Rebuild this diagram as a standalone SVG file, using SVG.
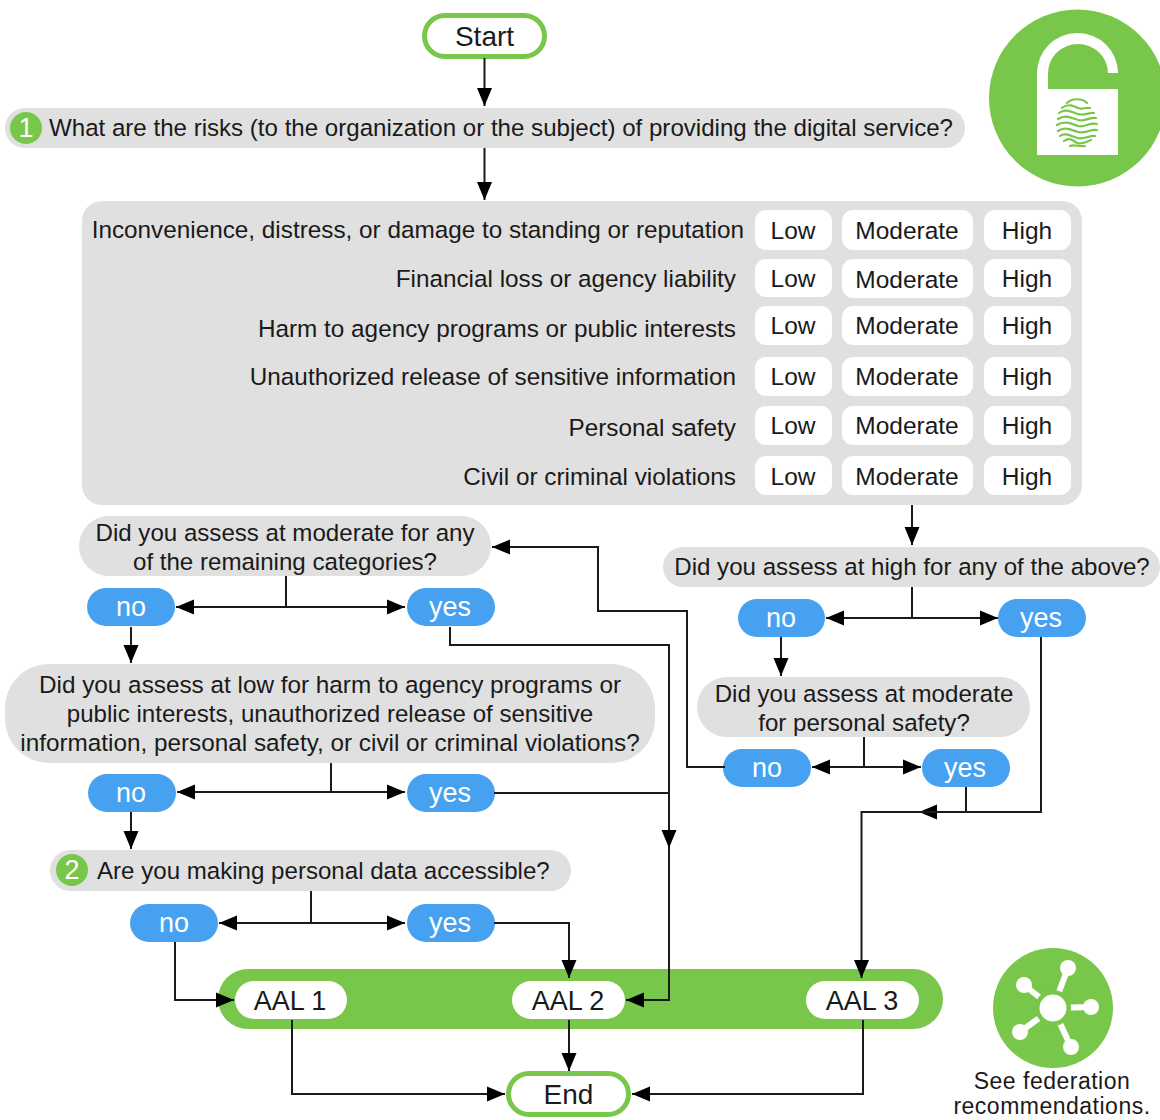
<svg xmlns="http://www.w3.org/2000/svg" width="1160" height="1120" viewBox="0 0 1160 1120">
<defs>
<marker id="arrow" markerUnits="userSpaceOnUse" markerWidth="19" markerHeight="17" refX="18" refY="8.500" orient="auto"><path d="M0,1 L18,8.500 L0,16 Z" fill="#000"/></marker>
</defs>
<style>
text{font-family:"Liberation Sans",Arial,sans-serif;font-size:24.100px;fill:#1a1a1a;text-anchor:middle}
.r{text-anchor:end;font-size:24.300px}
.l{text-anchor:start}
.gray{fill:#e0e0e0}
.white{fill:#fff}
.blue{fill:#46a2f0}
.green{fill:#78c74a}
.ans text{fill:#fff;font-size:27px}
.cell{font-size:24.500px}
.big{font-size:28px}
.aal{font-size:27px}
.fed{font-size:23px;letter-spacing:.5px}
.term{fill:#fff;stroke:#78c74a;stroke-width:5}
.num{fill:#fff;font-size:27px}
#connectors path{fill:none;stroke:#1a1a1a;stroke-width:2}
.arr{marker-end:url(#arrow)}
</style>
<rect width="1160" height="1120" fill="#fff"/>

<g id="lock-icon">
<circle class="green" cx="1077.500" cy="98" r="88.500"/>
<path class="white" d="M1037,155V73A40.500,40 0 0 1 1118,73H1108A30,29 0 0 0 1048,73V89H1118V155Z"/>
<g fill="none" stroke="#78c74a" stroke-width="2.200" stroke-linecap="round">
<path d="M1067,103C1072,98 1082,98 1087,103"/>
<path d="M1062,108C1068,103 1074,106 1078,108C1082,110 1086,107 1090,108"/>
<path d="M1059,113C1065,108 1072,112 1078,114C1084,116 1090,112 1094,113"/>
<path d="M1058,119C1065,114 1072,118 1078,120C1084,122 1090,117 1096,118"/>
<path d="M1057,125C1064,120 1072,124 1078,126C1084,128 1090,122 1097,124"/>
<path d="M1058,131C1065,126 1071,130 1078,132C1085,134 1090,129 1097,130"/>
<path d="M1060,136C1065,132 1071,136 1077,138C1084,140 1090,135 1095,136"/>
<path d="M1064,141C1069,137 1073,140 1077,143C1083,145 1088,141 1091,140"/>
<path d="M1070,146C1074,144 1080,147 1085,146"/>
</g>
</g>

<g id="start"><rect class="term" x="424.500" y="15.500" width="120" height="41" rx="20.500"/><text class="big" x="484.500" y="46">Start</text></g>

<g id="q1"><rect class="gray" x="5" y="108" width="960" height="40" rx="20"/><circle class="green" cx="26" cy="128" r="16"/><text class="num" x="26" y="137">1</text><text class="l" x="49" y="136">What are the risks (to the organization or the subject) of providing the digital service?</text></g>

<g id="risk-table">
<rect class="gray" x="82" y="201" width="1000" height="304" rx="20"/>
<text class="r" x="744" y="238">Inconvenience, distress, or damage to standing or reputation</text>
<text class="r" x="736" y="287">Financial loss or agency liability</text>
<text class="r" x="736" y="337">Harm to agency programs or public interests</text>
<text class="r" x="736" y="385">Unauthorized release of sensitive information</text>
<text class="r" x="736" y="436">Personal safety</text>
<text class="r" x="736" y="485">Civil or criminal violations</text>
<rect class="white" x="755" y="210" width="77" height="40" rx="11"/><text class="cell" x="793" y="239">Low</text>
<rect class="white" x="842" y="210" width="131" height="40" rx="11"/><text class="cell" x="907" y="239">Moderate</text>
<rect class="white" x="984" y="210" width="87" height="40" rx="11"/><text class="cell" x="1027" y="239">High</text>
<rect class="white" x="755" y="259" width="77" height="38" rx="11"/><text class="cell" x="793" y="287">Low</text>
<rect class="white" x="842" y="259" width="131" height="39" rx="11"/><text class="cell" x="907" y="288">Moderate</text>
<rect class="white" x="984" y="259" width="87" height="38" rx="11"/><text class="cell" x="1027" y="287">High</text>
<rect class="white" x="755" y="306" width="77" height="39" rx="11"/><text class="cell" x="793" y="334">Low</text>
<rect class="white" x="842" y="306" width="131" height="39" rx="11"/><text class="cell" x="907" y="334">Moderate</text>
<rect class="white" x="984" y="306" width="87" height="39" rx="11"/><text class="cell" x="1027" y="334">High</text>
<rect class="white" x="755" y="357" width="77" height="39" rx="11"/><text class="cell" x="793" y="385">Low</text>
<rect class="white" x="842" y="357" width="131" height="39" rx="11"/><text class="cell" x="907" y="385">Moderate</text>
<rect class="white" x="984" y="357" width="87" height="39" rx="11"/><text class="cell" x="1027" y="385">High</text>
<rect class="white" x="755" y="406" width="77" height="39" rx="11"/><text class="cell" x="793" y="434">Low</text>
<rect class="white" x="842" y="406" width="131" height="39" rx="11"/><text class="cell" x="907" y="434">Moderate</text>
<rect class="white" x="984" y="406" width="87" height="39" rx="11"/><text class="cell" x="1027" y="434">High</text>
<rect class="white" x="755" y="456" width="77" height="39" rx="11"/><text class="cell" x="793" y="485">Low</text>
<rect class="white" x="842" y="456" width="131" height="39" rx="11"/><text class="cell" x="907" y="485">Moderate</text>
<rect class="white" x="984" y="456" width="87" height="39" rx="11"/><text class="cell" x="1027" y="485">High</text>
</g>

<g id="q-moderate-remaining"><rect class="gray" x="79" y="516" width="412" height="60" rx="30"/><text x="285" y="541">Did you assess at moderate for any</text><text x="285" y="570">of the remaining categories?</text></g>
<g id="q-high"><rect class="gray" x="663" y="547" width="497" height="40" rx="20"/><text x="912" y="575">Did you assess at high for any of the above?</text></g>
<g id="q-low"><rect class="gray" x="5" y="664" width="650" height="99" rx="44"/><text x="330" y="693" style="font-size:24.300px">Did you assess at low for harm to agency programs or</text><text x="330" y="722">public interests, unauthorized release of sensitive</text><text x="330" y="751" style="font-size:24.300px">information, personal safety, or civil or criminal violations?</text></g>
<g id="q-moderate-safety"><rect class="gray" x="697" y="677" width="333" height="60" rx="30"/><text x="864" y="702">Did you assess at moderate</text><text x="864" y="731">for personal safety?</text></g>
<g id="q2"><rect class="gray" x="50" y="850" width="521" height="41" rx="20.500"/><circle class="green" cx="72" cy="870" r="16"/><text class="num" x="72" y="879">2</text><text class="l" x="97" y="879">Are you making personal data accessible?</text></g>

<g id="no-1" class="ans"><rect class="blue" x="87" y="588" width="88" height="38" rx="19"/><text x="131" y="616">no</text></g>
<g id="yes-1" class="ans"><rect class="blue" x="407" y="588" width="88" height="38" rx="19"/><text x="450" y="616">yes</text></g>
<g id="no-2" class="ans"><rect class="blue" x="738" y="599" width="87" height="38" rx="19"/><text x="781" y="627">no</text></g>
<g id="yes-2" class="ans"><rect class="blue" x="998" y="599" width="88" height="38" rx="19"/><text x="1041" y="627">yes</text></g>
<g id="no-3" class="ans"><rect class="blue" x="723" y="749" width="88" height="38" rx="19"/><text x="767" y="777">no</text></g>
<g id="yes-3" class="ans"><rect class="blue" x="922" y="749" width="88" height="38" rx="19"/><text x="965" y="777">yes</text></g>
<g id="no-4" class="ans"><rect class="blue" x="88" y="774" width="88" height="38" rx="19"/><text x="131" y="802">no</text></g>
<g id="yes-4" class="ans"><rect class="blue" x="407" y="774" width="88" height="38" rx="19"/><text x="450" y="802">yes</text></g>
<g id="no-5" class="ans"><rect class="blue" x="130" y="904" width="88" height="38" rx="19"/><text x="174" y="932">no</text></g>
<g id="yes-5" class="ans"><rect class="blue" x="407" y="904" width="88" height="38" rx="19"/><text x="450" y="932">yes</text></g>

<g id="aal-band">
<rect class="green" x="218" y="969" width="725" height="60" rx="30"/>
<g id="aal-1"><rect class="white" x="235" y="981" width="112" height="38" rx="19"/><text class="aal" x="290" y="1010">AAL 1</text></g>
<g id="aal-2"><rect class="white" x="512" y="981" width="113" height="38" rx="19"/><text class="aal" x="568" y="1010">AAL 2</text></g>
<g id="aal-3"><rect class="white" x="806" y="981" width="113" height="38" rx="19"/><text class="aal" x="862" y="1010">AAL 3</text></g>
</g>

<g id="end"><rect class="term" x="508.500" y="1073.500" width="120" height="41" rx="20.500"/><text class="big" x="568.500" y="1104">End</text></g>

<g id="federation">
<circle class="green" cx="1053" cy="1008" r="60"/>
<g stroke="#fff" stroke-width="6"><path d="M1053,1008L1068,968M1053,1008L1024,985M1053,1008L1091,1007M1053,1008L1020,1032M1053,1008L1071,1047"/></g>
<circle class="green" cx="1053" cy="1008" r="18"/>
<circle class="white" cx="1053" cy="1008" r="13.500"/>
<circle class="white" cx="1068" cy="968" r="8"/><circle class="white" cx="1024" cy="985" r="8"/><circle class="white" cx="1091" cy="1007" r="8"/><circle class="white" cx="1020" cy="1032" r="8"/><circle class="white" cx="1071" cy="1047" r="8"/>
<text class="fed" x="1052" y="1089">See federation</text>
<text class="fed" x="1052" y="1114">recommendations.</text>
</g>

<g id="connectors">
<path class="arr" d="M484.500,58V106"/>
<path class="arr" d="M484.500,148V200"/>
<path class="arr" d="M912,505V545"/>
<path d="M912,587V618"/>
<path class="arr" d="M912,618H826"/>
<path class="arr" d="M912,618H998"/>
<path class="arr" d="M781,637V676"/>
<path d="M864,737V767"/>
<path class="arr" d="M864,767H812"/>
<path class="arr" d="M864,767H921"/>
<path class="arr" d="M725,767H687V611H598V547H492"/>
<path d="M966,787V812"/>
<path class="arr" d="M1041,637V812H919"/>
<path class="arr" d="M966,812H861.500V978"/>
<path d="M286,576V607"/>
<path class="arr" d="M286,607H176"/>
<path class="arr" d="M286,607H405"/>
<path class="arr" d="M131,627V663"/>
<path class="arr" d="M450,627V645H669V848"/>
<path class="arr" d="M669,848V1000H626"/>
<path d="M331,763V792"/>
<path class="arr" d="M331,792H177"/>
<path class="arr" d="M331,792H405"/>
<path class="arr" d="M131,812V849"/>
<path d="M494,793H669"/>
<path d="M311,891V923"/>
<path class="arr" d="M311,923H219"/>
<path class="arr" d="M311,923H405"/>
<path class="arr" d="M175,942V1000H234"/>
<path class="arr" d="M494,923H569V978"/>
<path class="arr" d="M292,1020V1094H505"/>
<path class="arr" d="M569,1020V1071"/>
<path class="arr" d="M863,1020V1094H632"/>
</g>
</svg>
